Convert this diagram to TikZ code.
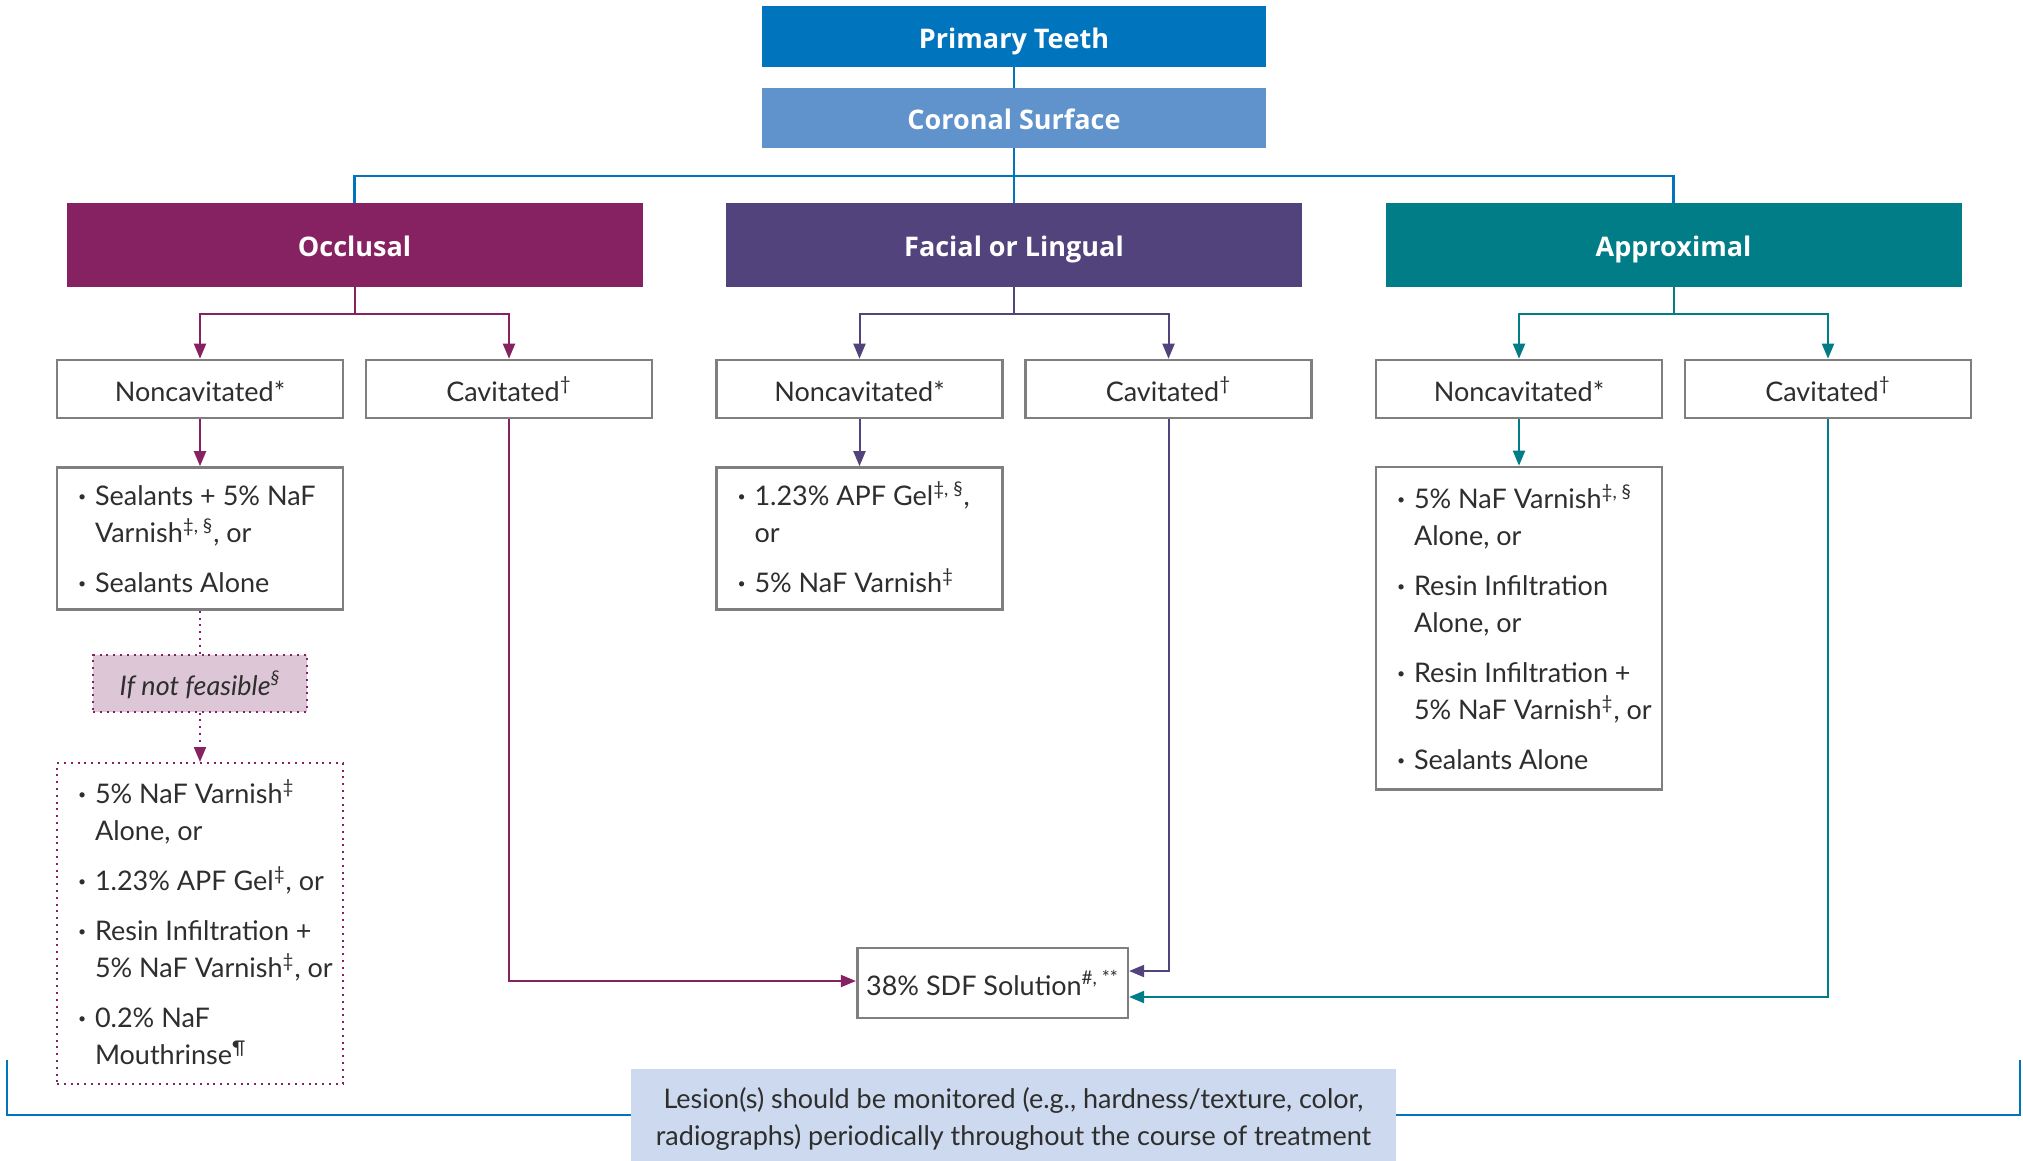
\documentclass[tikz,border=0pt]{standalone}
\usepackage{fontspec}
\setmainfont{Lato}
\newfontfamily\headfont{Open Sans}
\usetikzlibrary{arrows.meta,calc}
\definecolor{ptblue}{HTML}{0075BE}
\definecolor{csblue}{HTML}{6092CB}
\definecolor{occ}{HTML}{862262}
\definecolor{fac}{HTML}{52437C}
\definecolor{app}{HTML}{007D86}
\definecolor{boxgray}{HTML}{7F7F7F}
\definecolor{txt}{HTML}{2E2E2E}
\definecolor{pinkfill}{HTML}{DDC7D7}
\definecolor{monfill}{HTML}{CCD9EE}
\newcommand{\bodyfs}{\fontsize{13.5}{18.5}\selectfont}
\newcommand{\bu}{\raisebox{0.3ex}{\fontsize{7}{7}\selectfont\textbullet}}
\newcommand{\topfix}{\rule{0pt}{16.5pt}}
\newcommand{\tlist}[1]{\makebox[122pt][l]{\begin{tabular}{@{}p{8.5pt}@{}l@{}}#1\end{tabular}}}
\begin{document}
\begin{tikzpicture}[x=0.5pt,y=-0.5pt,
  topbox/.style={text=white, font=\headfont\bfseries\fontsize{13.5}{16}\selectfont, minimum width=252pt, inner sep=0pt, text height=11.7pt, text depth=0pt},
  head/.style={text=white, font=\headfont\bfseries\fontsize{13.5}{16}\selectfont, minimum width=288pt, minimum height=42pt, inner sep=0pt, text height=11.7pt, text depth=0pt},
  subbox/.style={draw=boxgray, line width=1.3pt, fill=white, minimum width=143pt, minimum height=29pt, text=txt, font=\bodyfs, inner sep=0pt, text height=12pt, text depth=0pt},
  listbox/.style={draw=boxgray, line width=1.3pt, fill=white, minimum width=143pt, text=txt, font=\bodyfs, inner sep=0pt},
  dotbox/.style={draw=occ, line width=1pt, dash pattern=on 1pt off 2.4pt, text=txt, font=\bodyfs, inner sep=0pt},
  conn/.style={line width=1pt, -{Triangle[length=7.5pt,width=6pt]}},
  plain/.style={line width=1pt},
  dotline/.style={draw=occ, line width=1pt, dash pattern=on 1pt off 2.4pt},
  blueline/.style={draw=ptblue, line width=1.1pt}
]
\useasboundingbox (0,0) rectangle (2023,1161);

% top boxes
\node[topbox, fill=ptblue, minimum height=30.5pt] (pt) at (1014,36.5) {Primary Teeth};
\node[topbox, fill=csblue, minimum height=30pt] (cs) at (1014,118) {Coronal Surface};

% headers
\node[head, fill=occ] (occH) at (354.5,245) {Occlusal};
\node[head, fill=fac] (facH) at (1014,245) {Facial or Lingual};
\node[head, fill=app] (appH) at (1673.5,245) {Approximal};

% sub boxes
\node[subbox] (occN) at (200,389) {Noncavitated*};
\node[subbox] (occC) at (509,389) {Cavitated\textsuperscript{†}};
\node[subbox] (facN) at (859.5,389) {Noncavitated*};
\node[subbox] (facC) at (1168.5,389) {Cavitated\textsuperscript{†}};
\node[subbox] (appN) at (1519,389) {Noncavitated*};
\node[subbox] (appC) at (1828,389) {Cavitated\textsuperscript{†}};

% lists
\node[listbox, minimum height=71pt] (occL) at (200,538.5) {\tlist{
\bu & \topfix Sealants + 5\% NaF\\
    & Varnish\textsuperscript{‡, §}, or\\[6.5pt]
\bu & Sealants Alone}};

\node[listbox, minimum height=71pt] (facL) at (859.5,538.5) {\tlist{
\bu & \topfix 1.23\% APF Gel\textsuperscript{‡, §},\\
    & or\\[6.5pt]
\bu & 5\% NaF Varnish\textsuperscript{‡}}};

\node[listbox, minimum height=161.3pt] (appL) at (1519,628.3) {\tlist{
\bu & \topfix 5\% NaF Varnish\textsuperscript{‡, §}\\
    & Alone, or\\[6.5pt]
\bu & Resin Infiltration\\
    & Alone, or\\[6.5pt]
\bu & Resin Infiltration +\\
    & 5\% NaF Varnish\textsuperscript{‡}, or\\[6.5pt]
\bu & Sealants Alone}};

\node[dotbox, fill=pinkfill, minimum width=107pt, minimum height=28.25pt, text height=11.7pt, text depth=0pt] (ifnf) at (200,683.3) {\itshape If not feasible\textsuperscript{§}};

\node[dotbox, minimum width=143pt, minimum height=160.5pt] (occL2) at (200,923.5) {\tlist{
\bu & \topfix 5\% NaF Varnish\textsuperscript{‡}\\
    & Alone, or\\[6.5pt]
\bu & 1.23\% APF Gel\textsuperscript{‡}, or\\[6.5pt]
\bu & Resin Infiltration +\\
    & 5\% NaF Varnish\textsuperscript{‡}, or\\[6.5pt]
\bu & 0.2\% NaF\\
    & Mouthrinse\textsuperscript{¶}}};

\node[subbox, minimum width=135.3pt, minimum height=35pt] (sdf) at (992.5,983) {38\% SDF Solution\textsuperscript{\#, **}};

\node[fill=monfill, minimum width=382.5pt, minimum height=46pt, inner sep=0pt, text=txt, font=\bodyfs, align=center] (mon) at (1013.5,1115) {\rule{0pt}{14pt}Lesion(s) should be monitored (e.g., hardness/texture, color,\\radiographs) periodically throughout the course of treatment};

% blue connectors
\coordinate (hub) at (1014,176);
\draw[blueline] (pt.south) -- (cs.north);
\draw[blueline] (cs.south) -- (facH.north);
\draw[blueline] (occH.north) |- (hub) -| (appH.north);

% branch forks
\coordinate (occJ) at (354.5,313.5);
\coordinate (facJ) at (1014,313.5);
\coordinate (appJ) at (1673.5,313.5);
\draw[plain, draw=occ] (occH.south) -- (occJ);
\draw[conn, draw=occ] (occJ) -| (occN.north);
\draw[conn, draw=occ] (occJ) -| (occC.north);
\draw[plain, draw=fac] (facH.south) -- (facJ);
\draw[conn, draw=fac] (facJ) -| (facN.north);
\draw[conn, draw=fac] (facJ) -| (facC.north);
\draw[plain, draw=app] (appH.south) -- (appJ);
\draw[conn, draw=app] (appJ) -| (appN.north);
\draw[conn, draw=app] (appJ) -| (appC.north);

% noncavitated to lists
\draw[conn, draw=occ] (occN.south) -- (occL.north);
\draw[conn, draw=fac] (facN.south) -- (facL.north);
\draw[conn, draw=app] (appN.south) -- (appL.north);

% dotted path
\draw[dotline] (occL.south) -- (ifnf.north);
\draw[dotline, -{Triangle[length=7.5pt,width=6pt]}] (ifnf.south) -- (occL2.north);

% cavitated to SDF
\draw[conn, draw=occ] (occC.south) |- ([yshift=1pt]sdf.west);
\draw[conn, draw=fac] (facC.south) |- ([yshift=6pt]sdf.east);
\draw[conn, draw=app] (appC.south) |- ([yshift=-7pt]sdf.east);

% monitoring bracket
\coordinate (bl) at (7,1060);
\coordinate (br) at (2020,1060);
\draw[blueline] (bl) |- (mon.west);
\draw[blueline] (br) |- (mon.east);
\end{tikzpicture}
\end{document}
